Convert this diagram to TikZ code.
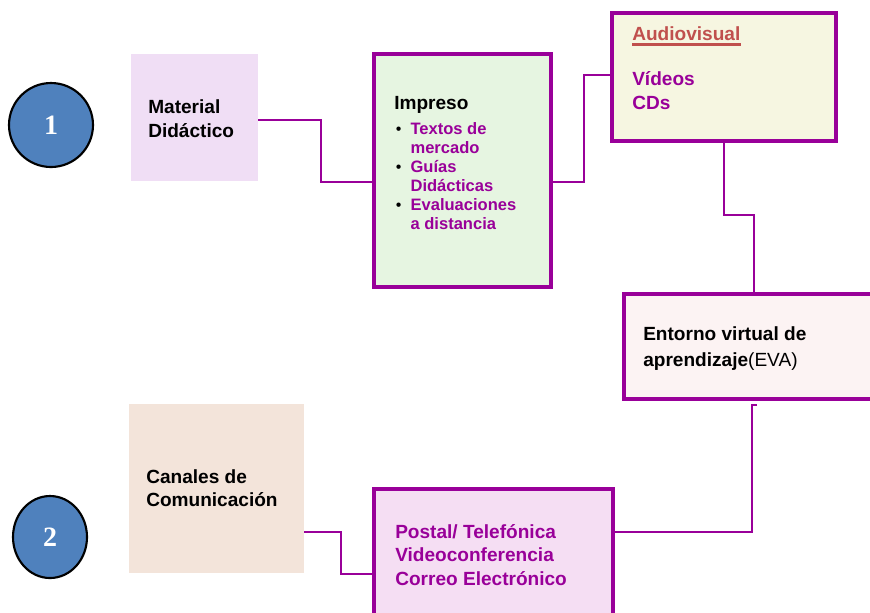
\documentclass[tikz,border=0pt]{standalone}
\usepackage{fontspec}
\setmainfont{Liberation Sans}
\newfontfamily\numfont{Liberation Serif}
\usetikzlibrary{fit,shapes.geometric}
\definecolor{purp}{HTML}{990099}
\definecolor{avred}{HTML}{C0504D}
\definecolor{cblue}{HTML}{4F81BD}
\definecolor{fmat}{RGB}{240,222,245}
\definecolor{fimp}{RGB}{230,245,225}
\definecolor{fav}{RGB}{246,246,225}
\definecolor{feva}{RGB}{252,243,243}
\definecolor{fcan}{RGB}{243,228,218}
\definecolor{fpos}{RGB}{245,222,243}
\newcommand\bul{\hspace{2pt}{\normalfont\fontsize{12}{12}\selectfont\textbullet}}
\tikzset{
  plainbox/.style={inner sep=0pt, outer sep=0pt, draw=none},
  framebox/.style={inner sep=0pt, outer sep=0pt, draw=purp, line width=3pt},
  conn/.style={draw=purp, line width=1.5pt},
  numcirc/.style={draw=black, line width=1.6pt, fill=cblue, inner sep=0pt, text=white, font=\numfont\bfseries\fontsize{21}{24}\selectfont},
  lbl/.style={anchor=west, inner sep=0pt, align=left, font=\bfseries\fontsize{14.3}{18}\selectfont},
}
\begin{document}
\begin{tikzpicture}[x=0.75pt,y=-0.75pt]
\useasboundingbox (0,0) rectangle (870,612);
% circles
\node[numcirc, circle, minimum size=63pt] (c1) at (51,125) {1};
\node[numcirc, ellipse, minimum width=55.5pt, minimum height=61.5pt] (c2) at (50,537) {2};
% boxes
\node[plainbox, fill=fmat, fit={(131,54) (258,181)}] (mat) {};
\node[framebox, fill=fimp, fit={(374,54) (551,287)}] (imp) {};
\node[framebox, fill=fav, fit={(612,13) (836,141)}] (av) {};
\node[framebox, fill=feva, fit={(624,294) (885,399)}] (eva) {};
\node[plainbox, fill=fcan, fit={(129,404) (304,573)}] (can) {};
\node[framebox, fill=fpos, fit={(374,489) (613,630)}] (pos) {};
% texts
\node[lbl] (tmat) at (148,119) {Material\\Didáctico};
\node[lbl] (timp) at (394,105) {Impreso};
\node[anchor=west, inner sep=0pt, font=\bfseries\fontsize{12.4}{14.25}\selectfont] (titems) at (393,178)
  {\begin{tabular}{@{}p{13pt}@{}l@{}}
   \bul & \textcolor{purp}{Textos de}\\
   & \textcolor{purp}{mercado}\\
   \bul & \textcolor{purp}{Guías}\\
   & \textcolor{purp}{Didácticas}\\
   \bul & \textcolor{purp}{Evaluaciones}\\
   & \textcolor{purp}{a distancia}
   \end{tabular}};
\node[lbl, text=avred] (tav) at (632,34) {Audiovisual};
\draw[avred, line width=2pt] ([yshift=-2.4pt]tav.south west) -- ([yshift=-2.4pt]tav.south east);
\node[lbl, text=purp] (tvid) at (632,91) {Vídeos\\CDs};
\node[lbl, font=\bfseries\fontsize{14.3}{19.5}\selectfont] (teva) at (643,349) {Entorno virtual de\\aprendizaje{\mdseries(EVA)}};
\node[lbl, font=\bfseries\fontsize{14.3}{17.5}\selectfont] (tcan) at (146,488.5) {Canales de\\Comunicación};
\node[lbl, text=purp, font=\bfseries\fontsize{14.3}{17.6}\selectfont] (tpos) at (395,555) {Postal/ Telefónica\\Videoconferencia\\Correo Electrónico};
% connectors
\coordinate (e1) at (757,405);
\draw[conn] (mat.east |- 0,120) -- (321,120) -- (321,182) -- (imp.west |- 0,182);
\draw[conn] (imp.east |- 0,182) -- (584,182) -- (584,75) -- (av.west |- 0,75);
\draw[conn] (av.south) -- (724,215) -- (754,215) -- (eva.north -| 754,0);
\draw[conn] (e1) -- (752,405) -- (752,532) -- (pos.east |- 0,532);
\draw[conn] (can.east |- 0,532) -- (341,532) -- (341,574) -- (pos.west |- 0,574);
\end{tikzpicture}
\end{document}
